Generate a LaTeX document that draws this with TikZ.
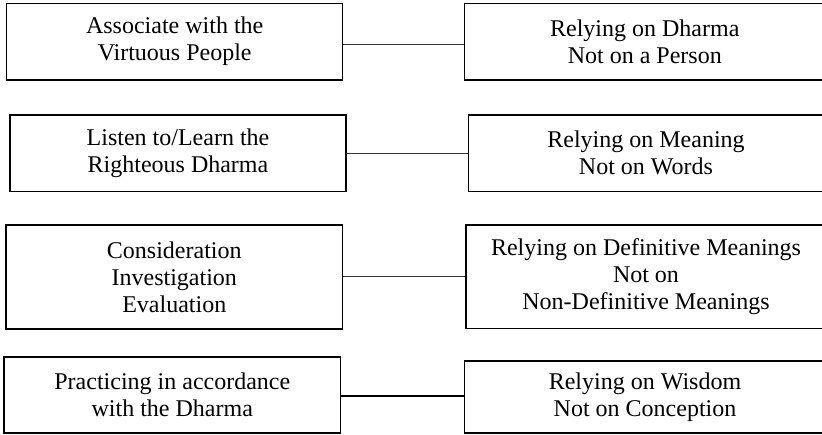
\documentclass[tikz,border=0pt]{standalone}
\usepackage{fontspec}
\setmainfont{Liberation Serif}
\begin{document}
\begin{tikzpicture}[x=1pt,y=-1pt,
  boxnode/.style={draw=black,line width=1.3pt,inner sep=0pt,align=center,
    font=\fontsize{24}{27}\selectfont},
  lbox/.style={boxnode,minimum width=336pt,minimum height=76.7pt},
  rbox/.style={boxnode,minimum width=360pt,minimum height=76.7pt},
  link/.style={draw=black!80,line width=1pt},
  thicklink/.style={draw=black,line width=1.7pt}]
\useasboundingbox (0,0) rectangle (822,434);
\clip (0,0) rectangle (822,434);
\node[lbox] (L1) at (174.7,41.7) {Associate with the\\Virtuous People};
\node[lbox] (L2) at (178,153.3) {Listen to/Learn the\\Righteous Dharma};
\node[lbox,minimum width=336.7pt,minimum height=104pt] (L3) at (174.3,277) {Consideration\\Investigation\\Evaluation};
\node[lbox,minimum width=336.7pt,minimum height=76pt] (L4) at (172.3,395) {Practicing in accordance\\with the Dharma};
\node[rbox] (R1) at (644.8,41.7) {Relying on Dharma\\Not on a Person};
\node[rbox,minimum width=355.7pt] (R2) at (646,153.3) {Relying on Meaning\\Not on Words};
\node[rbox,minimum height=103.5pt] (R3) at (646,276.8) {Relying on Definitive Meanings\\Not on\\Non-Definitive Meanings};
\node[rbox,minimum width=361.7pt,minimum height=72pt] (R4) at (645,397) {Relying on Wisdom\\Not on Conception};
\coordinate (c1) at ([yshift=-2.6pt]L1.east);
\coordinate (c3) at ([yshift=1pt]L3.east);
\coordinate (c4) at ([yshift=-1pt]L4.east);
\draw[link] (c1) -- (R1.west |- c1);
\draw[link] (L2.east) -- (R2.west);
\draw[link] (c3) -- (R3.west |- c3);
\draw[thicklink] (c4) -- (R4.west |- c4);
\end{tikzpicture}
\end{document}
